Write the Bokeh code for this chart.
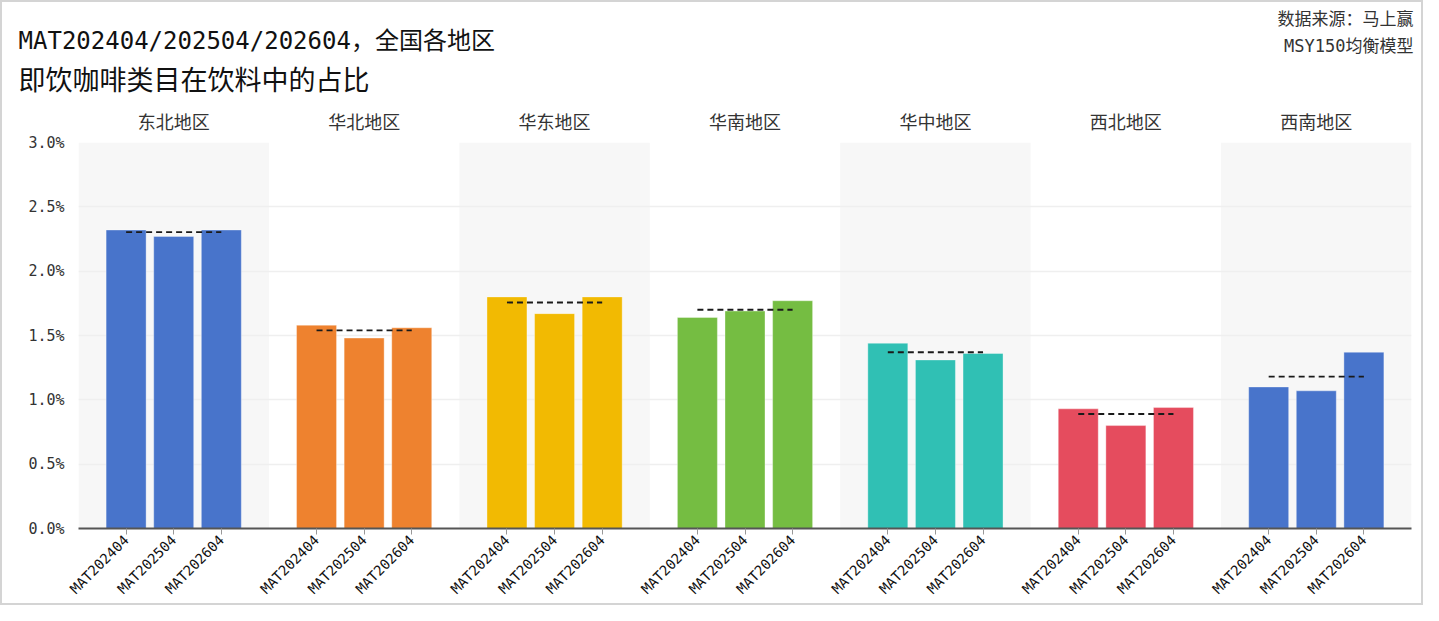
import math
import numpy as np
from bokeh.plotting import figure
from bokeh.layouts import column
from bokeh.models import ColumnDataSource, FixedTicker, LinearAxis, Range1d, PrintfTickFormatter
from bokeh.core.properties import value
from bokeh.embed import file_html
from bokeh.resources import INLINE

# ---------------- data ----------------
regions = ["东北地区", "华北地区", "华东地区", "华南地区", "华中地区", "西北地区", "西南地区"]
periods = ["MAT202404", "MAT202504", "MAT202604"]
share_2404 = [2.32, 1.58, 1.80, 1.64, 1.44, 0.93, 1.10]
share_2504 = [2.27, 1.48, 1.67, 1.69, 1.31, 0.80, 1.07]
share_2604 = [2.32, 1.56, 1.80, 1.77, 1.36, 0.94, 1.37]
region_colors = ["#4874CB", "#EE822F", "#F2BA02", "#75BD42", "#30C0B4", "#E54C5E", "#4874CB"]
y_ticks = [0.0, 0.5, 1.0, 1.5, 2.0, 2.5, 3.0]

title_lines = ["MAT202404/202504/202604，全国各地区", "即饮咖啡类目在饮料中的占比"]
source_lines = ["数据来源：马上赢", "MSY150均衡模型"]

FONT = "'DejaVu Sans Mono', 'Noto Sans CJK SC'"
BORDER = "2px solid #d4d4d4"
W = 1423
HEADER_H = 102
MAIN_H = 605 - HEADER_H

# ---------------- header (titles) ----------------
hdr = figure(width=W, height=HEADER_H, output_backend="svg", toolbar_location=None,
             x_range=Range1d(0, W - 4), y_range=Range1d(HEADER_H - 2, 0),
             min_border=0, x_axis_location=None, y_axis_location=None)
hdr.frame_align = False
hdr.grid.visible = False
hdr.outline_line_color = None
hdr.background_fill_color = "white"
hdr.border_fill_color = "white"
hdr.styles = {"border-top": BORDER, "border-left": BORDER, "border-right": BORDER,
              "box-sizing": "border-box"}

title_src = ColumnDataSource(dict(x=[16, 16], y=[38, 76], text=title_lines, size=["24px", "27px"]))
hdr.text(x="x", y="y", text="text", source=title_src, text_font=value(FONT),
         text_font_size="size", text_color="#111111", text_align="left", text_baseline="middle")
src_src = ColumnDataSource(dict(x=[1407, 1407], y=[16, 43], text=source_lines))
hdr.text(x="x", y="y", text="text", source=src_src, text_font=value(FONT),
         text_font_size="17px", text_color="#333333", text_align="right", text_baseline="middle")

# ---------------- main chart ----------------
offsets = [0.25, 0.5, 0.75]
series = [share_2404, share_2504, share_2604]
n = len(regions)

xs, tops, cols, labels = [], [], [], []
for i in range(n):
    for k in range(3):
        xs.append(i + offsets[k])
        tops.append(series[k][i])
        cols.append(region_colors[i])
        labels.append(periods[k])
bars = ColumnDataSource(dict(x=xs, top=tops, color=cols))

means = np.mean(np.array(series), axis=0)
avg = ColumnDataSource(dict(x0=[i + offsets[0] for i in range(n)],
                            x1=[i + offsets[2] for i in range(n)],
                            y=list(means)))

band_idx = [i for i in range(n) if i % 2 == 0]
bands = ColumnDataSource(dict(left=band_idx, right=[i + 1 for i in band_idx]))

p = figure(width=W, height=MAIN_H, output_backend="svg", toolbar_location=None,
           x_range=Range1d(0, n), y_range=Range1d(0, 3.0),
           min_border_left=76, min_border_right=14, min_border_top=40, min_border_bottom=77)
p.frame_align = False
p.background_fill_color = "white"
p.border_fill_color = "white"
p.outline_line_color = None
p.styles = {"border-bottom": BORDER, "border-left": BORDER, "border-right": BORDER,
            "box-sizing": "border-box"}

r_band = p.quad(left="left", right="right", bottom=0, top=3.0, source=bands,
                fill_color="#f7f7f7", line_color=None)
r_band.level = "image"

p.vbar(x="x", top="top", bottom=0, width=0.21, source=bars,
       fill_color="color", line_color="white", line_alpha=0.35, line_width=1)

p.segment(x0="x0", y0="y", x1="x1", y1="y", source=avg,
          line_color="#1a1a1a", line_dash="6 4", line_width=1.8)

p.xgrid.visible = False
p.ygrid.ticker = FixedTicker(ticks=y_ticks)
p.ygrid.grid_line_color = "#efefef"
p.ygrid.grid_line_width = 1.5

p.yaxis.ticker = FixedTicker(ticks=y_ticks)
p.yaxis.formatter = PrintfTickFormatter(format="%.1f%%")
p.yaxis.axis_line_color = None
p.yaxis.major_tick_line_color = None
p.yaxis.minor_tick_line_color = None
p.yaxis.major_tick_in = 0
p.yaxis.major_tick_out = 0
p.yaxis.major_label_standoff = 14
p.yaxis.major_label_text_font = FONT
p.yaxis.major_label_text_font_size = "15px"
p.yaxis.major_label_text_color = "#333333"

p.xaxis.ticker = FixedTicker(ticks=xs)
p.xaxis.major_label_overrides = {x: lab for x, lab in zip(xs, labels)}
p.xaxis.major_label_orientation = math.pi / 4
p.xaxis.axis_line_color = "#555555"
p.xaxis.axis_line_width = 2
p.xaxis.major_tick_line_color = "#999999"
p.xaxis.major_tick_in = 0
p.xaxis.major_tick_out = 6
p.xaxis.minor_tick_line_color = None
p.xaxis.major_label_standoff = 3
p.xaxis.major_label_text_font = FONT
p.xaxis.major_label_text_font_size = "14px"
p.xaxis.major_label_text_color = "#111111"

centers = [i + 0.5 for i in range(n)]
top_axis = LinearAxis(ticker=FixedTicker(ticks=centers),
                      major_label_overrides={c: r for c, r in zip(centers, regions)})
top_axis.axis_line_color = None
top_axis.major_tick_line_color = None
top_axis.minor_tick_line_color = None
top_axis.major_tick_in = 0
top_axis.major_tick_out = 0
top_axis.major_label_standoff = 10
top_axis.major_label_text_font = FONT
top_axis.major_label_text_font_size = "18px"
top_axis.major_label_text_color = "#333333"
p.add_layout(top_axis, "above")

layout = column(hdr, p, spacing=0)
open("out.html", "w").write(file_html(layout, INLINE))
